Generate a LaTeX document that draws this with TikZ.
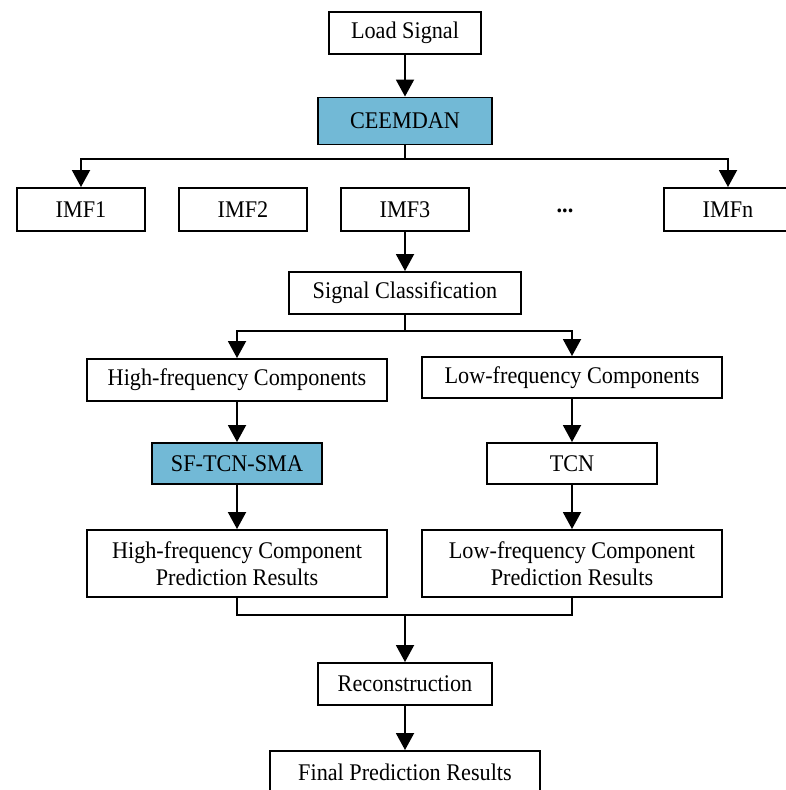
\documentclass[tikz,border=0pt]{standalone}
\usepackage{fontspec}
\setmainfont[FakeStretch=0.93]{Liberation Serif}
\usepackage{tikz}
\usetikzlibrary{arrows.meta}
\definecolor{decompblue}{RGB}{114,185,214}

\tikzset{
    box/.style={draw=black, line width=1.1pt, minimum height=0.84cm, align=center,
        font=\fontsize{13.6}{15.1}\selectfont},
    bluebox/.style={box, fill=decompblue},
    arr/.style={line width=1.1pt, -{Triangle[width=3.6mm, length=3.4mm]}},
    ln/.style={line width=1.1pt}
}

\begin{document}
\begin{tikzpicture}[x=0.02cm, y=-0.02cm]
        \useasboundingbox (0,0) rectangle (786,790);
        \clip (0,0) rectangle (786,790);

        % Decomposicao
        \node[box, minimum width=3.04cm] (load) at (405,33) {Load Signal};
        \node[bluebox, minimum width=3.48cm, minimum height=0.94cm] (ceemdan) at (405,121) {CEEMDAN};

        \node[box, minimum width=2.56cm, minimum height=0.86cm] (imf1) at (81,209.5) {IMF1};
        \node[box, minimum width=2.56cm, minimum height=0.86cm] (imf2) at (243,209.5) {IMF2};
        \node[box, minimum width=2.56cm, minimum height=0.86cm] (imf3) at (405,209.5) {IMF3};
        \node[font=\fontsize{13.6}{15.1}\selectfont\bfseries] (dots) at (565,211) {...};
        \node[box, minimum width=2.56cm, minimum height=0.86cm] (imfn) at (728,209.5) {IMFn};

        \coordinate (split1) at (405,159);
        \draw[arr] (load) -- (ceemdan);
        \draw[ln] (ceemdan) -- (split1);
        \draw[arr] (split1) -| (imf1);
        \draw[arr] (split1) -| (imfn);

        % Classificacao
        \node[box, minimum width=4.64cm] (classify) at (405,293) {Signal Classification};
        \draw[arr] (imf3) -- (classify);

        \node[box, minimum width=6cm] (high) at (237,380) {High-frequency Components};
        \node[box, minimum width=6cm, minimum height=0.82cm] (low) at (572,377.5) {Low-frequency Components};

        \coordinate (split2) at (405,331);
        \draw[ln] (classify) -- (split2);
        \draw[arr] (split2) -| (high);
        \draw[arr] (split2) -| (low);

        % Previsao
        \node[bluebox, minimum width=3.4cm, minimum height=0.82cm] (sftcn) at (237,463.5) {SF-TCN-SMA};
        \node[box, minimum width=3.4cm, minimum height=0.82cm] (tcn) at (572,463.5) {TCN};
        \draw[arr] (high) -- (sftcn);
        \draw[arr] (low) -- (tcn);

        \node[box, minimum width=6cm, minimum height=1.34cm] (hres) at (237,563.5) {High-frequency Component\\Prediction Results};
        \node[box, minimum width=6cm, minimum height=1.34cm] (lres) at (572,563.5) {Low-frequency Component\\Prediction Results};
        \draw[arr] (sftcn) -- (hres);
        \draw[arr] (tcn) -- (lres);

        % Reconstrucao
        \node[box, minimum width=3.48cm] (recon) at (405,684) {Reconstruction};
        \node[box, minimum width=5.4cm] (final) at (405,772) {Final Prediction Results};

        \coordinate (join) at (405,615);
        \draw[ln] (hres) |- (join) -| (lres);
        \draw[arr] (join) -- (recon);
        \draw[arr] (recon) -- (final);
    \end{tikzpicture}
\end{document}
